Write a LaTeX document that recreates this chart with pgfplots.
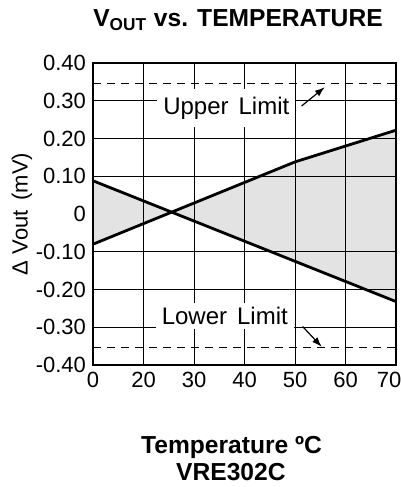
\documentclass[border=0pt]{standalone}
\usepackage{fontspec}
\setmainfont{Liberation Sans}
\usepackage{pgfplots}
\pgfplotsset{compat=1.18}
\usetikzlibrary{arrows.meta}
\begin{document}
\begin{tikzpicture}
\begin{axis}[name=ax, at={(0,0)}, anchor=south west,
  scale only axis, width=151.5pt, height=151pt,
  xmin=0, xmax=6, ymin=-0.4, ymax=0.4,
  xtick={0,1,2,3,4,5,6}, xticklabels={0,20,30,40,50,60,{\hspace{-7pt}70}},
  ytick={-0.4,-0.3,-0.2,-0.1,0.1,0.2,0.3,0.4},
  yticklabels={-0.40,-0.30,-0.20,-0.10,0.10,0.20,0.30,0.40},
  extra y ticks={0}, extra y tick labels={0},
  extra y tick style={grid=none},
  grid=major, grid style={black, line width=0.5pt},
  major tick length=0pt,
  axis line style={line width=1.4pt},
  tick label style={font=\fontsize{11}{13}\selectfont},
  set layers,
]
\addplot[fill=black!11, draw=none, on layer=axis background] coordinates {(0,0.088) (6,-0.232) (6,0.222) (4,0.138) (0,-0.08)} --cycle;
\addplot[black, line width=1.4pt] coordinates {(0,0.088) (6,-0.232)};
\addplot[black, line width=1.4pt] coordinates {(0,-0.08) (4,0.138) (6,0.222)};
\addplot[black, line width=0.5pt, dash pattern=on 4pt off 3pt] coordinates {(0,0.347) (6,0.347)};
\addplot[black, line width=0.5pt, dash pattern=on 4pt off 3pt] coordinates {(0,-0.354) (6,-0.354)};
\addplot[black, line width=0.6pt, -{Latex[length=5pt,width=3.5pt]}] coordinates {(4.13,0.286) (4.59,0.336)};
\addplot[black, line width=0.6pt, -{Latex[length=5pt,width=3.5pt]}] coordinates {(4.15,-0.298) (4.53,-0.352)};
\node[fill=white, inner xsep=3pt, inner ysep=4pt, font=\fontsize{12}{14}\selectfont] at (axis cs:2.64,0.28) {Upper\hspace{5pt}Limit};
\node[fill=white, inner xsep=3pt, inner ysep=2pt, font=\fontsize{12}{14}\selectfont] at (axis cs:2.61,-0.27) {Lower\hspace{5pt}Limit};
\end{axis}
\node[font=\bfseries\fontsize{12.3}{14}\selectfont] at ([xshift=-3.25pt,yshift=21.5pt]ax.north) {V\textsubscript{OUT} vs. TEMPERATURE};
\node[font=\bfseries\fontsize{12.3}{14}\selectfont] at ([xshift=-6.5pt,yshift=-41pt]ax.south) {Temperature ºC};
\node[font=\bfseries\fontsize{12.3}{14}\selectfont] at ([xshift=-6.8pt,yshift=-53.3pt]ax.south) {VRE302C};
\node[rotate=90, font=\fontsize{11}{13}\selectfont] at ([xshift=-35.5pt]ax.west) {Δ Vout\hspace{5pt}(mV)};
\pgfresetboundingbox
\path[use as bounding box] ([shift={(-46.5pt,-61pt)}]ax.south west) rectangle ([shift={(2.5pt,31.5pt)}]ax.north east);
\end{tikzpicture}
\end{document}
